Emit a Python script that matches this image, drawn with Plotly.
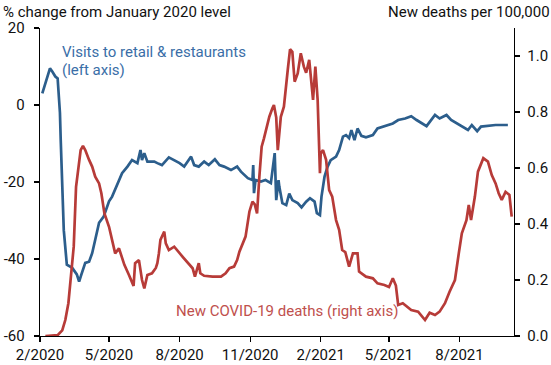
import plotly.graph_objects as go

# Visits to retail & restaurants, % change from January 2020 level (left axis)
visits_dates = [
    "2020-02-04", "2020-02-14", "2020-02-17", "2020-02-21", "2020-02-24", "2020-02-27", "2020-02-28",
    "2020-03-01", "2020-03-03", "2020-03-07", "2020-03-14", "2020-03-20", "2020-03-23", "2020-03-26",
    "2020-03-31", "2020-04-05", "2020-04-09", "2020-04-13", "2020-04-18", "2020-04-24", "2020-05-01",
    "2020-05-05", "2020-05-12", "2020-05-18", "2020-05-25", "2020-05-31", "2020-06-07", "2020-06-11",
    "2020-06-13", "2020-06-16", "2020-06-20", "2020-06-29", "2020-07-03", "2020-07-09", "2020-07-18",
    "2020-07-25", "2020-08-01", "2020-08-07", "2020-08-16", "2020-08-20", "2020-08-26", "2020-09-02",
    "2020-09-08", "2020-09-16", "2020-09-22", "2020-09-28", "2020-10-07", "2020-10-15", "2020-10-20",
    "2020-10-29", "2020-11-04", "2020-11-05", "2020-11-06", "2020-11-08", "2020-11-15", "2020-11-21",
    "2020-11-28", "2020-12-03", "2020-12-05", "2020-12-08", "2020-12-09", "2020-12-13", "2020-12-18",
    "2020-12-22", "2020-12-26", "2021-01-02", "2021-01-07", "2021-01-13", "2021-01-18", "2021-01-24",
    "2021-01-27", "2021-01-31", "2021-02-02", "2021-02-06", "2021-02-10", "2021-02-14", "2021-02-21",
    "2021-02-25", "2021-03-02", "2021-03-06", "2021-03-10", "2021-03-13", "2021-03-17", "2021-03-21",
    "2021-03-26", "2021-04-01", "2021-04-10", "2021-04-16", "2021-04-23", "2021-04-30", "2021-05-06",
    "2021-05-13", "2021-05-22", "2021-05-30", "2021-06-06", "2021-06-19", "2021-06-30", "2021-07-06",
    "2021-07-15", "2021-07-21", "2021-08-06", "2021-08-12", "2021-08-17", "2021-08-24", "2021-08-29",
    "2021-09-17", "2021-09-28", "2021-10-03",
]
visits_values = [
    3.0, 9.5, 8.7, 7.4, 6.9, -2.0, -9.0,
    -21.0, -32.5, -41.5, -42.3, -44.0, -45.9, -44.0,
    -41.0, -40.7, -38.5, -35.0, -30.6, -29.0, -25.0,
    -23.8, -20.3, -17.7, -16.0, -14.3, -15.1, -11.7,
    -14.3, -12.5, -14.7, -14.7, -15.1, -15.6, -13.6,
    -14.3, -15.1, -16.0, -13.4, -15.6, -16.0, -14.7,
    -15.6, -14.1, -15.6, -16.0, -16.9, -16.0, -17.3,
    -19.0, -19.5, -15.6, -22.9, -19.5, -19.9, -19.5,
    -20.3, -12.5, -24.7, -19.5, -21.2, -25.5, -26.0,
    -23.0, -24.7, -25.5, -26.6, -25.1, -24.2, -25.1,
    -28.1, -28.6, -23.8, -18.6, -16.0, -14.3, -13.4,
    -11.7, -8.2, -7.8, -8.6, -6.5, -9.1, -6.1,
    -8.0, -8.4, -7.8, -6.1, -5.6, -5.2, -4.8,
    -3.9, -3.5, -2.9, -3.9, -5.5, -2.6, -3.5,
    -2.6, -3.9, -5.8, -6.5, -5.2, -6.8, -5.6,
    -5.2, -5.2, -5.2,
]

# New COVID-19 deaths per 100,000 (right axis)
deaths_dates = [
    "2020-02-08", "2020-02-24", "2020-03-01", "2020-03-05", "2020-03-09", "2020-03-12", "2020-03-16",
    "2020-03-19", "2020-03-22", "2020-03-25", "2020-03-28", "2020-03-31", "2020-04-05", "2020-04-09",
    "2020-04-13", "2020-04-18", "2020-04-21", "2020-04-25", "2020-05-01", "2020-05-05", "2020-05-09",
    "2020-05-14", "2020-05-21", "2020-05-27", "2020-06-02", "2020-06-04", "2020-06-09", "2020-06-13",
    "2020-06-16", "2020-06-20", "2020-06-26", "2020-07-01", "2020-07-03", "2020-07-05", "2020-07-07",
    "2020-07-12", "2020-07-14", "2020-07-18", "2020-07-25", "2020-08-05", "2020-08-11", "2020-08-18",
    "2020-08-21", "2020-08-26", "2020-08-28", "2020-09-02", "2020-09-13", "2020-09-24", "2020-09-30",
    "2020-10-05", "2020-10-11", "2020-10-15", "2020-10-18", "2020-10-22", "2020-10-26", "2020-10-31",
    "2020-11-04", "2020-11-07", "2020-11-10", "2020-11-13", "2020-11-16", "2020-11-19", "2020-11-24",
    "2020-11-26", "2020-11-30", "2020-12-02", "2020-12-05", "2020-12-07", "2020-12-11", "2020-12-15",
    "2020-12-20", "2020-12-23", "2020-12-26", "2020-12-29", "2021-01-02", "2021-01-06", "2021-01-10",
    "2021-01-13", "2021-01-17", "2021-01-19", "2021-01-22", "2021-01-25", "2021-01-28", "2021-01-31",
    "2021-02-01", "2021-02-04", "2021-02-08", "2021-02-12", "2021-02-16", "2021-02-21", "2021-02-25",
    "2021-03-01", "2021-03-05", "2021-03-10", "2021-03-15", "2021-03-21", "2021-03-23", "2021-04-01",
    "2021-04-10", "2021-04-16", "2021-04-25", "2021-05-01", "2021-05-06", "2021-05-10", "2021-05-13",
    "2021-05-19", "2021-05-30", "2021-06-08", "2021-06-12", "2021-06-17", "2021-06-23", "2021-06-30",
    "2021-07-06", "2021-07-13", "2021-07-19", "2021-07-26", "2021-07-31", "2021-08-04", "2021-08-10",
    "2021-08-13", "2021-08-16", "2021-08-21", "2021-08-25", "2021-09-01", "2021-09-07", "2021-09-12",
    "2021-09-17", "2021-09-21", "2021-09-25", "2021-09-30", "2021-10-05", "2021-10-08",
]
deaths_values = [
    0.0, 0.003, 0.02, 0.057, 0.117, 0.2, 0.32,
    0.533, 0.593, 0.664, 0.679, 0.664, 0.629, 0.605,
    0.569, 0.545, 0.51, 0.438, 0.39, 0.337, 0.295,
    0.313, 0.254, 0.218, 0.179, 0.26, 0.271, 0.2,
    0.17, 0.218, 0.224, 0.243, 0.26, 0.295, 0.343,
    0.373, 0.331, 0.307, 0.319, 0.283, 0.265, 0.242,
    0.212, 0.26, 0.224, 0.215, 0.212, 0.212, 0.224,
    0.242, 0.248, 0.271, 0.301, 0.325, 0.355, 0.444,
    0.48, 0.47, 0.438, 0.569, 0.676, 0.706, 0.76,
    0.783, 0.813, 0.825, 0.78, 0.664, 0.783, 0.819,
    0.95, 1.024, 1.015, 0.908, 0.938, 1.01, 0.962,
    0.94, 0.986, 0.932, 0.843, 0.962, 0.843, 0.581,
    0.652, 0.664, 0.629, 0.521, 0.498, 0.414, 0.379,
    0.307, 0.30, 0.248, 0.295, 0.295, 0.23, 0.212,
    0.206, 0.188, 0.182, 0.175, 0.206, 0.18, 0.111,
    0.117, 0.093, 0.087, 0.075, 0.057, 0.083, 0.075,
    0.087, 0.117, 0.158, 0.2, 0.295, 0.367, 0.414,
    0.468, 0.414, 0.498, 0.587, 0.635, 0.623, 0.575,
    0.545, 0.51, 0.486, 0.515, 0.504, 0.426,
]

x_tick_vals = ["2020-02-01", "2020-05-01", "2020-08-01", "2020-11-01",
               "2021-02-01", "2021-05-01", "2021-08-01"]
x_tick_text = ["2/2020", "5/2020", "8/2020", "11/2020", "2/2021", "5/2021", "8/2021"]
left_tick_vals = [-60, -40, -20, 0, 20]
left_tick_text = ["-60", "-40", "-20", "0", "20"]
right_tick_vals = [0.0, 0.2, 0.4, 0.6, 0.8, 1.0]
right_tick_text = ["0.0", "0.2", "0.4", "0.6", "0.8", "1.0"]

BLUE = "#2c5e8c"
RED = "#b73b38"
FONT = "Roboto"
FS = 15

# plot area in pixels: left 40, right 514, top 28, bottom 336
PW, PH = 474, 308


def px_x(px):
    return (px - 40) / PW


def px_y(py):
    return (336 - py) / PH


fig = go.Figure()
fig.add_trace(go.Scatter(x=visits_dates, y=visits_values, mode="lines",
                         line=dict(color=BLUE, width=2.7), yaxis="y", showlegend=False,
                         hoverinfo="skip"))
fig.add_trace(go.Scatter(x=deaths_dates, y=deaths_values, mode="lines",
                         line=dict(color=RED, width=2.7), yaxis="y2", showlegend=False,
                         hoverinfo="skip"))

axis_common = dict(showline=True, linecolor="black", linewidth=1.3, ticks="outside",
                   ticklen=5, tickcolor="black", tickwidth=1.3, showgrid=False, zeroline=False,
                   automargin=False,
                   tickfont=dict(family=FONT, size=FS, color="#111"))

fig.update_layout(
    template="none",
    width=551, height=365,
    margin=dict(l=40, r=37, t=28, b=29, pad=0),
    paper_bgcolor="white", plot_bgcolor="white",
    font=dict(family=FONT, size=FS, color="#111"),
    hovermode=False,
    xaxis=dict(range=["2020-02-01", "2021-10-11"], tickvals=x_tick_vals, ticktext=x_tick_text,
               **axis_common),
    yaxis=dict(range=[-60, 20], tickvals=left_tick_vals, ticktext=left_tick_text,
               ticklabelstandoff=6, **axis_common),
    yaxis2=dict(range=[0, 1.1], tickvals=right_tick_vals, ticktext=right_tick_text,
                overlaying="y", side="right", ticklabelstandoff=4, **axis_common),
    annotations=[
        dict(text="% change from January 2020 level", xref="paper", yref="paper",
             x=px_x(116.5), y=px_y(12), xanchor="center", yanchor="middle", showarrow=False,
             font=dict(family=FONT, size=FS, color="#111")),
        dict(text="New deaths per 100,000", xref="paper", yref="paper",
             x=px_x(468.5), y=px_y(12), xanchor="center", yanchor="middle", showarrow=False,
             font=dict(family=FONT, size=FS, color="#111")),
        dict(text="Visits to retail & restaurants", xref="paper", yref="paper",
             x=px_x(153.5), y=px_y(52), xanchor="center", yanchor="middle", showarrow=False,
             font=dict(family=FONT, size=FS, color="#3a6ea7")),
        dict(text="(left axis)", xref="paper", yref="paper",
             x=px_x(93), y=px_y(70), xanchor="center", yanchor="middle", showarrow=False,
             font=dict(family=FONT, size=FS, color="#3a6ea7")),
        dict(text="New COVID-19 deaths (right axis)", xref="paper", yref="paper",
             x=px_x(286.5), y=px_y(311), xanchor="center", yanchor="middle", showarrow=False,
             font=dict(family=FONT, size=FS, color="#c0504d")),
    ],
)

fig.write_html("out.html", config={"displayModeBar": False, "staticPlot": True},
               post_script="document.body.style.margin='0';")
